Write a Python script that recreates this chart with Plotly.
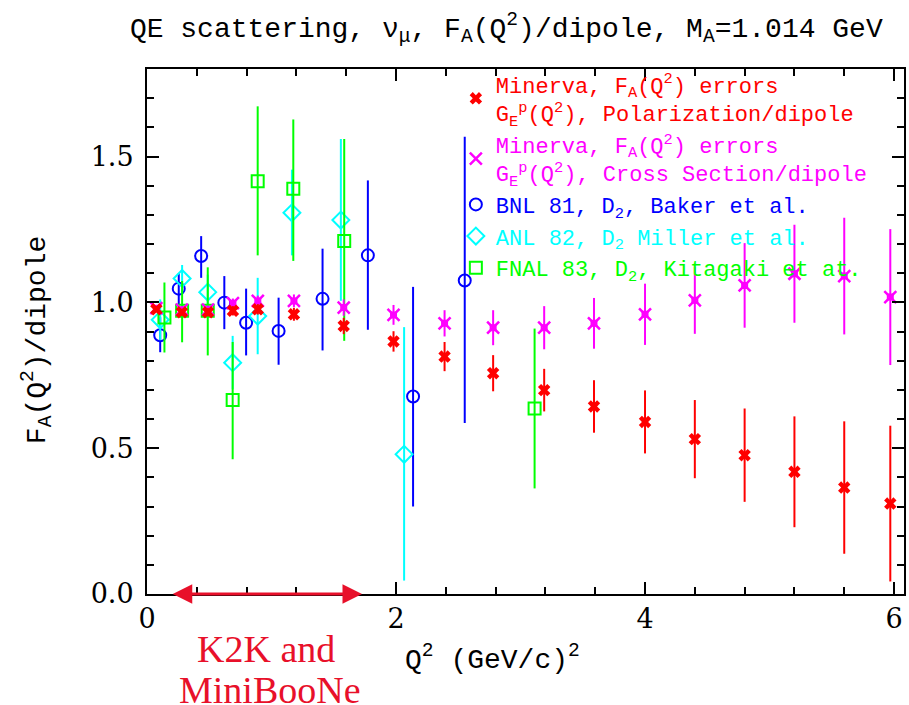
import plotly.graph_objects as go

# ---------------- data ----------------
# Minerva, F_A errors, G_E^p polarization/dipole (red)
min_pol_x = [0.075, 0.28, 0.49, 0.69, 0.89, 1.18, 1.58, 1.98, 2.39, 2.78, 3.19, 3.59, 4.0, 4.4, 4.8, 5.2, 5.6, 5.97]
min_pol_y = [0.976, 0.966, 0.966, 0.971, 0.976, 0.959, 0.919, 0.866, 0.814, 0.757, 0.699, 0.643, 0.590, 0.531, 0.476, 0.419, 0.365, 0.310]
min_pol_err = [0.010, 0.012, 0.014, 0.016, 0.018, 0.022, 0.028, 0.035, 0.050, 0.062, 0.073, 0.090, 0.108, 0.134, 0.160, 0.190, 0.227, 0.267]

# Minerva, F_A errors, G_E^p cross section/dipole (magenta)
min_xs_x = [0.075, 0.28, 0.49, 0.69, 0.89, 1.18, 1.58, 1.98, 2.39, 2.78, 3.19, 3.59, 4.0, 4.4, 4.8, 5.2, 5.6, 5.97]
min_xs_y = [0.980, 0.975, 0.975, 0.997, 1.005, 1.005, 0.982, 0.957, 0.928, 0.913, 0.913, 0.928, 0.959, 1.007, 1.058, 1.098, 1.090, 1.018]
min_xs_err = [0.010, 0.012, 0.014, 0.016, 0.018, 0.022, 0.028, 0.034, 0.045, 0.060, 0.074, 0.087, 0.105, 0.115, 0.145, 0.168, 0.200, 0.233]

# BNL 81, D2, Baker et al. (blue)
bnl_x = [0.106, 0.255, 0.435, 0.621, 0.796, 1.057, 1.410, 1.774, 2.137, 2.552]
bnl_y = [0.887, 1.047, 1.159, 0.999, 0.930, 0.902, 1.012, 1.161, 0.677, 1.075]
bnl_hi = [0.949, 1.100, 1.227, 1.090, 1.047, 1.016, 1.184, 1.418, 1.053, 1.568]
bnl_lo = [0.829, 0.990, 1.084, 0.908, 0.818, 0.786, 0.835, 0.906, 0.300, 0.586]

# ANL 82, D2, Miller et al. (cyan)
anl_x = [0.106, 0.282, 0.488, 0.688, 0.889, 1.164, 1.557, 2.065]
anl_y = [0.940, 1.082, 1.035, 0.793, 0.953, 1.307, 1.282, 0.479]
anl_hi = [1.010, 1.128, 1.095, 0.885, 1.084, 1.455, 1.560, 0.915]
anl_lo = [0.870, 1.030, 0.975, 0.702, 0.822, 1.161, 1.005, 0.046]

# FNAL 83, D2, Kitagaki et al. (green)
fnal_x = [0.140, 0.282, 0.488, 0.688, 0.889, 1.175, 1.584, 3.113]
fnal_y = [0.948, 0.971, 0.971, 0.665, 1.415, 1.389, 1.210, 0.636]
fnal_hi = [1.068, 1.073, 1.120, 0.864, 1.672, 1.627, 1.560, 0.910]
fnal_lo = [0.828, 0.863, 0.818, 0.462, 1.161, 1.142, 0.868, 0.362]

# K2K / MiniBooNE Q^2 coverage
k2k_range = [0.195, 1.727]

x_ticks = [0, 2, 4, 6]
y_ticks = [0.0, 0.5, 1.0, 1.5]

# ---------------- styling ----------------
RED = "#ff0000"
MAG = "#ff00ff"
BLUE = "#0000ff"
CYAN = "#00ffff"
GREEN = "#00ff00"
ARROW = "#e8102a"
SERIF = "DejaVu Serif"
MONO = "Liberation Mono"


def span(c, *lines):
    return "<br>".join(f"<span style='color:{c}'>{l}</span>" for l in lines)


def up_dn(y, hi, lo):
    return [h - v for h, v in zip(hi, y)], [v - l for v, l in zip(y, lo)]


fig = go.Figure()

bp, bm = up_dn(bnl_y, bnl_hi, bnl_lo)
fig.add_trace(go.Scatter(
    x=bnl_x, y=bnl_y, mode="markers",
    name=span(BLUE, "BNL 81, D<sub>2</sub>, Baker et al."),
    marker=dict(symbol="circle-open", size=12, color=BLUE, line=dict(width=2, color=BLUE)),
    error_y=dict(type="data", array=bp, arrayminus=bm, color=BLUE, thickness=2, width=0),
    legendrank=3,
))

ap, am = up_dn(anl_y, anl_hi, anl_lo)
fig.add_trace(go.Scatter(
    x=anl_x, y=anl_y, mode="markers",
    name=span(CYAN, "ANL 82, D<sub>2</sub> Miller et al."),
    marker=dict(symbol="diamond-open", size=13, color=CYAN, line=dict(width=2, color=CYAN)),
    error_y=dict(type="data", array=ap, arrayminus=am, color=CYAN, thickness=2, width=0),
    legendrank=4,
))

fp, fm = up_dn(fnal_y, fnal_hi, fnal_lo)
fig.add_trace(go.Scatter(
    x=fnal_x, y=fnal_y, mode="markers",
    name=span(GREEN, "FNAL 83, D<sub>2</sub>, Kitagaki et at."),
    marker=dict(symbol="square-open", size=12, color=GREEN, line=dict(width=2, color=GREEN)),
    error_y=dict(type="data", array=fp, arrayminus=fm, color=GREEN, thickness=2, width=0),
    legendrank=5,
))

fig.add_trace(go.Scatter(
    x=min_xs_x, y=min_xs_y, mode="markers",
    name=span(MAG, "Minerva, F<sub>A</sub>(Q<sup>2</sup>) errors",
              "G<sub>E</sub><sup>p</sup>(Q<sup>2</sup>), Cross Section/dipole"),
    marker=dict(symbol="x-thin-open", size=12, color=MAG, line=dict(width=2.5, color=MAG)),
    error_y=dict(type="data", array=min_xs_err, color=MAG, thickness=2, width=0),
    legendgroup="mag", legendrank=2,
))
fig.add_trace(go.Scatter(
    x=min_xs_x, y=min_xs_y, mode="markers", showlegend=False, legendgroup="mag",
    marker=dict(symbol="square-open", size=5, color=MAG, line=dict(width=2, color=MAG)),
    hoverinfo="skip",
))

fig.add_trace(go.Scatter(
    x=min_pol_x, y=min_pol_y, mode="markers",
    name=span(RED, "Minerva, F<sub>A</sub>(Q<sup>2</sup>) errors",
              "G<sub>E</sub><sup>p</sup>(Q<sup>2</sup>), Polarization/dipole"),
    marker=dict(symbol="x", size=11, color=RED, line=dict(width=0)),
    error_y=dict(type="data", array=min_pol_err, color=RED, thickness=2, width=0),
    legendrank=1,
))

axis_common = dict(
    showgrid=False, zeroline=False, showline=True, linecolor="black", linewidth=2,
    mirror="allticks", ticks="inside", ticklen=12, tickwidth=1.5, tickcolor="black",
    tickfont=dict(family=SERIF, size=27, color="black"),
)

fig.update_xaxes(range=[0, 6.08], tickvals=x_ticks, ticktext=[str(v) for v in x_ticks],
                 minor=dict(ticks="inside", dtick=0.4, ticklen=7, tickwidth=1.5, tickcolor="black"),
                 **axis_common)
fig.update_yaxes(range=[0, 1.8], tickvals=y_ticks, ticktext=[f"{v:.1f}" for v in y_ticks],
                 minor=dict(ticks="inside", dtick=0.1, ticklen=7, tickwidth=1.5, tickcolor="black"),
                 ticklabelstandoff=6,
                 **axis_common)

fig.add_annotation(
    x=k2k_range[1], y=0, ax=k2k_range[0], ay=0, xref="x", yref="y", axref="x", ayref="y",
    text="", showarrow=True, arrowhead=2, startarrowhead=2, arrowside="end+start",
    arrowsize=1.3, startarrowsize=1.3, arrowwidth=3, arrowcolor=ARROW,
)
fig.add_annotation(
    x=0.157, y=-0.105, xref="paper", yref="paper", showarrow=False,
    xanchor="center", yanchor="middle",
    text="K2K and", font=dict(family="Liberation Serif", size=38, color=ARROW),
)
fig.add_annotation(
    x=0.162, y=-0.183, xref="paper", yref="paper", showarrow=False,
    xanchor="center", yanchor="middle",
    text="MiniBooNe", font=dict(family="Liberation Serif", size=38, color=ARROW),
)
fig.add_annotation(
    x=0.457, y=-0.122, xref="paper", yref="paper", showarrow=False,
    xanchor="center", yanchor="middle",
    text="Q<sup>2</sup> (GeV/c)<sup>2</sup>",
    font=dict(family=MONO, size=28, color="black"),
)
fig.add_annotation(
    x=-0.145, y=0.484, xref="paper", yref="paper", showarrow=False, textangle=-90,
    xanchor="center", yanchor="middle",
    text="F<sub>A</sub>(Q<sup>2</sup>)/dipole",
    font=dict(family=MONO, size=28, color="black"),
)

fig.update_layout(
    width=909, height=705,
    margin=dict(l=147, r=3, t=69, b=111),
    paper_bgcolor="white", plot_bgcolor="white",
    title=dict(
        text="QE scattering, \u03bd<sub>\u03bc</sub>, F<sub>A</sub>(Q<sup>2</sup>)/dipole, M<sub>A</sub>=1.014 GeV",
        x=0.557, xanchor="center", y=0.962, yanchor="middle",
        font=dict(family=MONO, size=28, color="black"),
    ),
    legend=dict(
        x=0.408, y=1.011, xanchor="left", yanchor="top",
        bgcolor="rgba(0,0,0,0)", borderwidth=0, tracegroupgap=0,
        font=dict(family=MONO, size=22, color="black"),
        itemclick=False, itemdoubleclick=False,
    ),
    showlegend=True,
)

fig.write_html("out.html")
